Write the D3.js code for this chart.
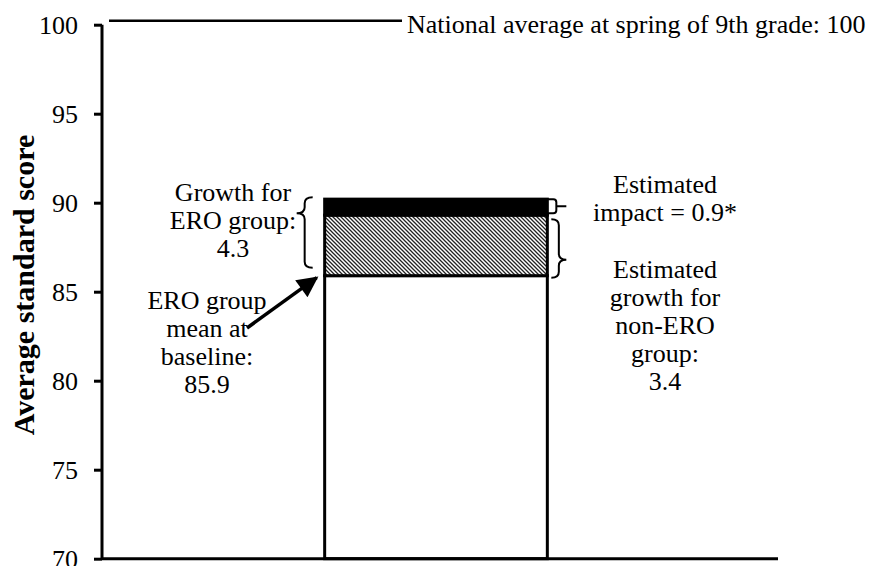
<!DOCTYPE html>
<html>
<head>
<meta charset="utf-8">
<script src="https://cdn.jsdelivr.net/npm/d3@7/dist/d3.min.js"></script>
<style>
  html, body { margin: 0; padding: 0; background: #fff; }
  svg { display: block; }
</style>
</head>
<body>
<svg id="chart" width="881" height="566"></svg>
<script>
// ---- data ----
const categories = ["ERO group"];
const segmentNames = ["ERO group mean at baseline", "Estimated growth for non-ERO group", "Estimated impact"];
const segmentValues = [85.9, 3.4, 0.9];
const yTicks = [70, 75, 80, 85, 90, 95, 100];
const nationalAverage = 100;
const yLabel = "Average standard score";
const nationalLabel = "National average at spring of 9th grade: 100";
const leftTopLabel = ["Growth for", "ERO group:", "4.3"];
const leftBottomLabel = ["ERO group", "mean at", "baseline:", "85.9"];
const rightTopLabel = ["Estimated", "impact = 0.9*"];
const rightBottomLabel = ["Estimated", "growth for", "non-ERO", "group:", "3.4"];

// ---- layout ----
const FONT = "Liberation Serif";
const svg = d3.select("#chart");
const axisX = 102, axisRight = 778;
const y = d3.scaleLinear().domain([70, 100]).range([558.7, 24.7]);
const x = d3.scaleBand().domain(categories).range([axisX, 770]).padding(0.5);

// hatch pattern
const defs = svg.append("defs");
const pat = defs.append("pattern").attr("id", "hatch")
  .attr("patternUnits", "userSpaceOnUse").attr("width", 4).attr("height", 4);
pat.append("rect").attr("width", 4).attr("height", 4).attr("fill", "#fff");
pat.append("path").attr("d", "M0,0 L4,4 M-1,3 L1,5 M3,-1 L5,1")
  .attr("stroke", "#222").attr("stroke-width", 1.3);
defs.append("marker").attr("id", "arrow").attr("viewBox", "0 0 10 10")
  .attr("refX", 9).attr("refY", 5).attr("markerWidth", 6.5).attr("markerHeight", 6)
  .attr("markerUnits", "strokeWidth").attr("orient", "auto")
  .append("path").attr("d", "M0,0 L10,5 L0,10 z").attr("fill", "#000");

// stacked segments
let acc = 70;
const segs = segmentValues.map((v, i) => {
  const lo = i === 0 ? 70 : acc;
  const hi = i === 0 ? v : acc + v;
  acc = hi;
  return { name: segmentNames[i], lo, hi, i };
});
const fills = ["#fff", "url(#hatch)", "#000"];
const cat = categories[0];
svg.selectAll("rect.seg").data(segs).join("rect").attr("class", "seg")
  .attr("x", x(cat)).attr("width", x.bandwidth())
  .attr("y", d => y(d.hi)).attr("height", d => y(d.lo) - y(d.hi))
  .attr("fill", (d) => fills[d.i]).attr("stroke", "#000").attr("stroke-width", 3);

// y axis
const yAxis = d3.axisLeft(y).tickValues(yTicks).tickSize(8).tickPadding(16).tickFormat(d3.format("d"));
const gY = svg.append("g").attr("transform", `translate(${axisX},0)`).call(yAxis);
gY.attr("font-family", null).attr("font-size", null);
gY.select(".domain").attr("stroke-width", 3).attr("d", `M0,${y(100)}V${y(70)}`);
gY.selectAll(".tick line").attr("stroke-width", 3);
gY.selectAll(".tick text").style("font-family", FONT).style("font-size", "26px").attr("fill", "#000");

// x axis line
svg.append("line").attr("x1", axisX).attr("x2", axisRight).attr("y1", y(70)).attr("y2", y(70))
  .attr("stroke", "#000").attr("stroke-width", 3);

// y label
svg.append("text").attr("transform", `translate(34,${285}) rotate(-90)`)
  .style("font-family", FONT).attr("text-anchor", "middle").style("font-size", "30px").style("font-weight", "bold").text(yLabel);

// national average line
svg.append("line").attr("x1", 109).attr("x2", 402).attr("y1", y(nationalAverage) - 4).attr("y2", y(nationalAverage) - 4)
  .attr("stroke", "#000").attr("stroke-width", 2.5);
svg.append("text").style("font-family", FONT).attr("x", 407).attr("y", 33).style("font-size", "26px").text(nationalLabel);

// multi-line labels
function lines(arr, cx, y0, lh) {
  const t = svg.append("text").style("font-family", FONT).attr("text-anchor", "middle").style("font-size", "26px");
  arr.forEach((s, i) => t.append("tspan").attr("x", cx).attr("y", y0 + i * lh).text(s));
}
lines(leftTopLabel, 233, 201, 28);
lines(leftBottomLabel, 207, 309, 28);
lines(rightTopLabel, 665, 193, 28);
lines(rightBottomLabel, 665, 278, 28);

// braces
const xl = x(cat), xr = x(cat) + x.bandwidth();
function brace(xEdge, xTip, top, bottom, cusp) {
  const xm = (xEdge + xTip) / 2;
  const r = 6;
  return `M${xEdge},${top} Q${xm},${top} ${xm},${top + r} L${xm},${cusp - r} Q${xm},${cusp} ${xTip},${cusp}` +
         ` Q${xm},${cusp} ${xm},${cusp + r} L${xm},${bottom - r} Q${xm},${bottom} ${xEdge},${bottom}`;
}
const total = acc;
const topY = y(total), midY = y(segs[1].hi), baseY = y(segs[0].hi);
svg.append("path").attr("d", brace(xl - 12, xl - 28, topY - 2, baseY - 8, topY + 14))
  .attr("fill", "none").attr("stroke", "#000").attr("stroke-width", 2);
svg.append("path").attr("d", brace(xr + 4, xr + 19, midY + 4, baseY + 2, baseY - 16))
  .attr("fill", "none").attr("stroke", "#000").attr("stroke-width", 2);
// small impact bracket
svg.append("path").attr("d",
  `M${xr},${topY} L${xr + 6},${topY} Q${xr + 9},${topY} ${xr + 9},${topY + 3} L${xr + 9},${midY - 5} Q${xr + 9},${midY - 2} ${xr + 6},${midY - 2} L${xr},${midY - 2}` +
  ` M${xr + 9},${(topY + midY) / 2 - 1} L${xr + 19},${(topY + midY) / 2 - 1}`)
  .attr("fill", "none").attr("stroke", "#000").attr("stroke-width", 2);

// arrow
svg.append("line").attr("x1", 247).attr("y1", 328).attr("x2", xl - 8).attr("y2", baseY + 2)
  .attr("stroke", "#000").attr("stroke-width", 3.5).attr("marker-end", "url(#arrow)");
</script>
</body>
</html>
